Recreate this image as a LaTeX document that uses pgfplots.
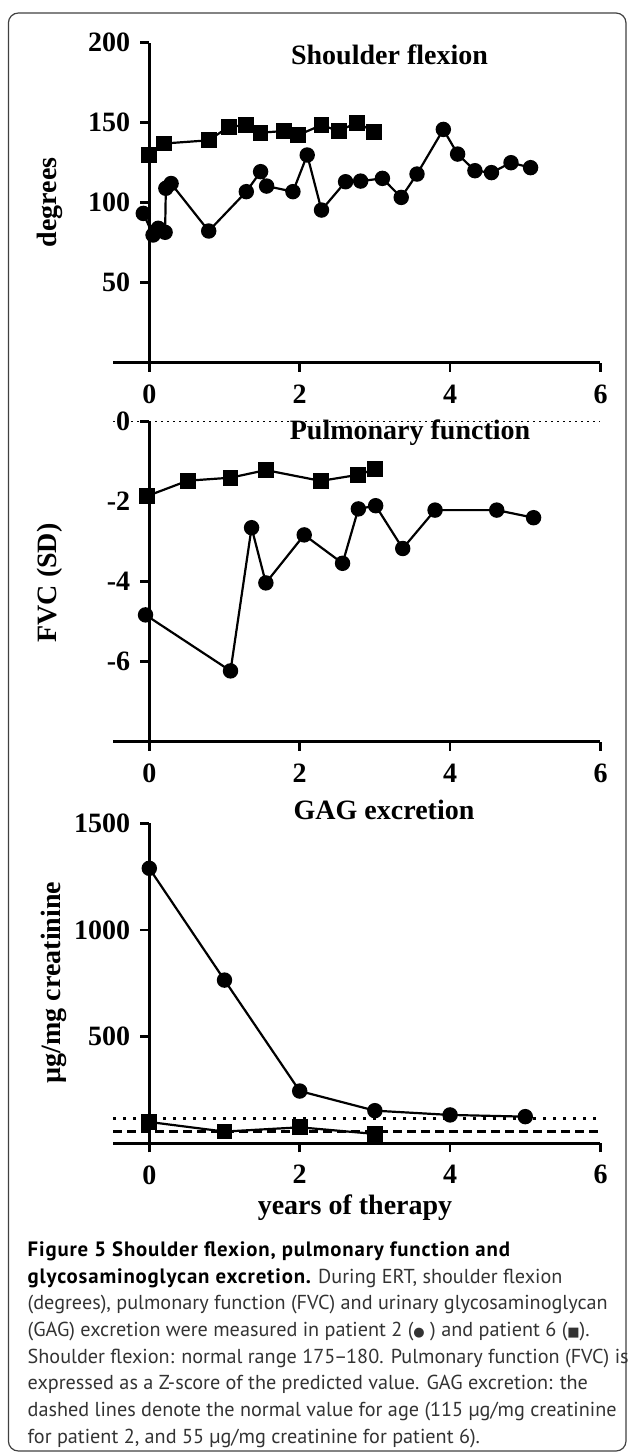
\documentclass[border=0pt]{standalone}
\usepackage{pgfplots}
\pgfplotsset{compat=1.18}
\usepackage{fontspec}
\setmainfont{Liberation Serif}
\newfontfamily\capfont{PT Sans}
\newfontfamily\capbold[LetterSpace=4]{PT Sans}
\newfontfamily\symfont{DejaVu Sans}

\pgfplotsset{
 panel/.style={
  scale only axis, width=225.6pt, height=160pt,
  xmin=0, xmax=6,
  axis x line=bottom, axis y line=left,
  axis line style={line width=1.3pt, -},
  every outer x axis line/.append style={-},
  every inner x axis line/.append style={-},
  every outer y axis line/.append style={-},
  every inner y axis line/.append style={-},
  xtick pos=bottom, ytick pos=left,
  tick align=outside, major tick length=4.5pt,
  tick style={line width=1.3pt, black},
  xtick={0,2,4,6}, xticklabels={0,2,4,6},
  hide obscured x ticks=false, hide obscured y ticks=false,
  tick label style={font=\bfseries\fontsize{14}{14}\selectfont},
  xticklabel style={yshift=-3pt},
  yticklabel style={xshift=-1.5pt},
  clip=false,
  every axis plot/.append style={line width=1.1pt, black},
 },
 xext/.style={line width=1.3pt, black, no marks},
 circ/.style={mark=*, mark size=3.3pt, mark options={solid}},
 sq/.style={mark=square*, mark size=3.4pt, mark options={solid}},
}

\begin{document}
\begin{tikzpicture}
\path (0,0) rectangle (314.5pt,-727pt);
\draw[black!75, line width=0.6pt, rounded corners=5pt] (4.2pt,-6.5pt) rectangle (313pt,-725.5pt);

% Panel 1: shoulder flexion
\begin{axis}[panel, at={(74.65pt,-181.35pt)}, anchor=south west,
  ymin=0, ymax=200, ytick={50,100,150,200}, yticklabels={50,100,150,200}]
\addplot[xext] coordinates {(-0.48,0) (0,0)};
\addplot[circ] coordinates {(-0.08,93.3) (0.05,79.8) (0.12,84) (0.21,81.5) (0.22,109) (0.29,112) (0.79,82.3) (1.29,106.9) (1.48,119.4) (1.56,110.4) (1.91,106.9) (2.10,129.8) (2.29,95.4) (2.61,113.1) (2.81,113.5) (3.10,115.2) (3.35,103.3) (3.56,117.9) (3.91,145.8) (4.10,130.4) (4.33,120) (4.55,118.8) (4.81,125) (5.07,121.9)};
\addplot[sq] coordinates {(0,129.8) (0.2,137) (0.79,139) (1.06,147.5) (1.29,148.5) (1.48,143.75) (1.79,144.8) (1.98,142.3) (2.29,148.5) (2.52,144.8) (2.76,150) (2.99,144.4)};
\end{axis}

% Panel 2: pulmonary function
\begin{axis}[panel, at={(74.65pt,-370.85pt)}, anchor=south west,
  ymin=-8, ymax=0, ytick={0,-2,-4,-6}, yticklabels={0,-2,-4,-6}]
\addplot[xext] coordinates {(-0.48,-8) (0,-8)};
\addplot[line width=0.6pt, dash pattern=on 0.7pt off 2.3pt] coordinates {(-0.48,0) (6,0)};
\addplot[sq] coordinates {(-0.03,-1.86) (0.51,-1.475) (1.08,-1.4) (1.55,-1.21) (2.28,-1.48) (2.77,-1.33) (3.0,-1.19)};
\addplot[circ] coordinates {(-0.05,-4.83) (1.08,-6.23) (1.36,-2.65) (1.55,-4.03) (2.06,-2.83) (2.57,-3.54) (2.78,-2.18) (3.01,-2.1) (3.37,-3.17) (3.80,-2.21) (4.62,-2.21) (5.11,-2.4)};
\end{axis}

% Panel 3: GAG excretion
\begin{axis}[panel, at={(74.65pt,-571.65pt)}, anchor=south west,
  ymin=0, ymax=1500, ytick={500,1000,1500}, yticklabels={500,1000,1500}]
\addplot[xext] coordinates {(-0.48,0) (0,0)};
\addplot[line width=1.5pt, dash pattern=on 1.5pt off 3.5pt] coordinates {(-0.48,115) (6,115)};
\addplot[line width=1.5pt, dash pattern=on 4.2pt off 2.8pt] coordinates {(-0.48,55) (6,55)};
\addplot[circ] coordinates {(0,1289) (1,765) (2,245) (3,153) (4,133) (5,125)};
\addplot[sq] coordinates {(0,100) (1,55) (2,75) (3,44)};
\end{axis}

% titles and labels
\begin{scope}[every node/.style={font=\bfseries\fontsize{14}{16}\selectfont}]
\node at (194.75pt,-27.5pt) {Shoulder flexion};
\node at (205pt,-216.5pt) {Pulmonary function};
\node at (192pt,-405pt) {GAG excretion};
\node at (177.5pt,-604pt) {years of therapy};
\node[rotate=90] at (25pt,-101.25pt) {degrees};
\node[rotate=90] at (25pt,-291.5pt) {FVC (SD)};
\node[rotate=90] at (27pt,-491.25pt) {µg/mg creatinine};
\end{scope}

% caption
\begin{scope}[every node/.style={anchor=base west, inner sep=0pt, font=\capfont\fontsize{10.1}{12}\selectfont, text=black!80}]
\node at (13.65pt,-628.3pt) {\textcolor{black}{\capbold\bfseries\fontsize{10.4}{12}\selectfont Figure 5 Shoulder flexion, pulmonary function and}};
\node at (13.65pt,-641.63pt) {\textcolor{black}{\capbold\bfseries\fontsize{10.4}{12}\selectfont glycosaminoglycan excretion.} During ERT, shoulder flexion};
\node at (13.65pt,-654.97pt) {(degrees), pulmonary function (FVC) and urinary glycosaminoglycan};
\node at (13.65pt,-668.3pt) {(GAG) excretion were measured in patient 2 ({\symfont\fontsize{6.5}{8}\selectfont ●} ) and patient 6 ({\symfont\fontsize{6.5}{8}\selectfont ■}).};
\node at (13.65pt,-681.63pt) {Shoulder flexion: normal range 175{\kern-0.6pt}–{\kern-0.6pt}180. Pulmonary function (FVC) is};
\node at (13.65pt,-694.97pt) {expressed as a Z-score of the predicted value. GAG excretion: the};
\node at (13.65pt,-708.3pt) {dashed lines denote the normal value for age (115 µg/mg creatinine};
\node at (13.65pt,-721.63pt) {for patient 2, and 55 µg/mg creatinine for patient 6).};
\end{scope}
\end{tikzpicture}
\end{document}
